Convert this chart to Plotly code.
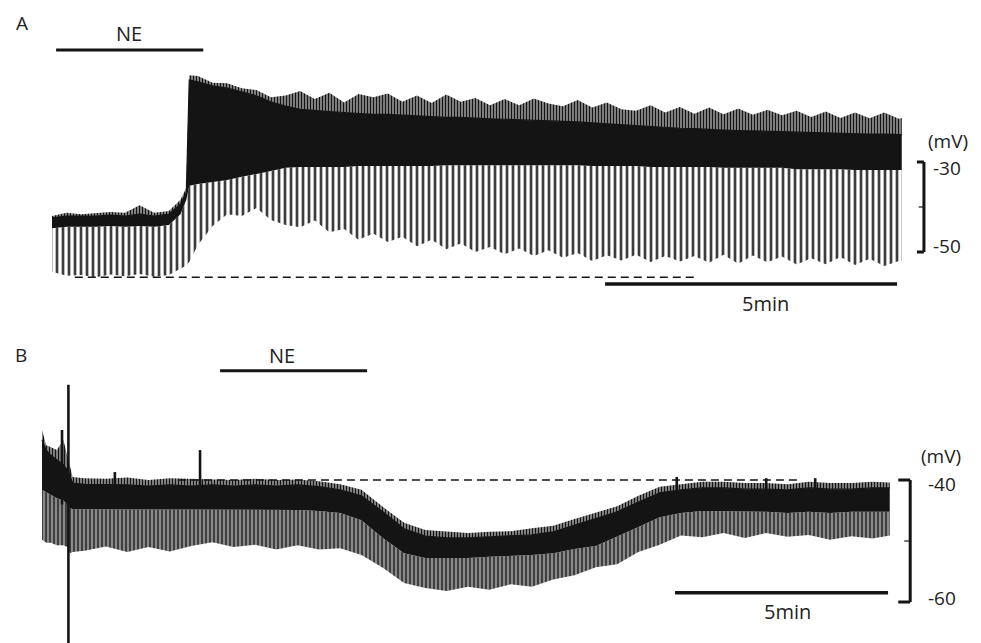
import plotly.graph_objects as go

W, H = 981, 643

# ---------------- Panel A data (time in min, membrane potential in mV) ----------------
a_time = [0, 0.25, 0.5, 0.75, 1.0, 1.25, 1.5, 1.75, 2.0,
          2.2, 2.3, 2.35,
          2.5, 2.75, 3.0, 3.25, 3.5, 3.75, 4.0, 4.25, 4.5, 4.75, 5.0, 5.25, 5.5, 5.75,
          6.0, 6.25, 6.5, 6.75, 7.0, 7.25, 7.5, 7.75, 8.0, 8.25, 8.5, 8.75, 9.0, 9.25,
          9.5, 9.75, 10.0, 10.25, 10.5, 10.75, 11.0, 11.25, 11.5, 11.75, 12.0, 12.25,
          12.5, 12.75, 13.0, 13.25, 13.5, 13.75, 14.0, 14.25, 14.5, 14.55]
a_spike_top = [-42.0, -41.3, -41.6, -41.3, -41.1, -41.3, -39.6, -41.3, -40.9,
               -38.4, -35.8, -10.7,
               -10.9, -12.4, -12.5, -13.6, -14.0, -15.6, -15.2, -14.2, -16.0, -14.6, -16.8, -14.9, -15.6, -14.8,
               -16.6, -15.2, -16.9, -15.0, -16.6, -15.8, -17.4, -16.0, -17.4, -15.9, -17.0, -17.6, -16.2, -17.9,
               -16.8, -18.3, -18.6, -17.4, -19.0, -17.8, -19.3, -17.9, -19.4, -18.1, -19.5, -18.4,
               -19.6, -18.6, -20.0, -18.8, -20.2, -19.0, -20.3, -19.0, -20.4, -20.2]
a_core_top = [-42.4, -42.0, -42.0, -42.0, -41.8, -42.0, -41.6, -42.0, -41.6,
              -39.3, -36.7, -11.8,
              -12.2, -13.1, -13.6, -14.4, -15.3, -16.7, -17.6, -18.3, -18.6, -18.8, -19.0, -19.2, -19.4, -19.4,
              -19.6, -19.8, -19.9, -20.1, -20.1, -20.3, -20.4, -20.5, -20.6, -20.8, -20.9, -21.0, -21.1, -21.3,
              -21.5, -21.7, -22.0, -22.2, -22.3, -22.5, -22.6, -22.8, -22.9, -23.0, -23.1, -23.2,
              -23.3, -23.4, -23.5, -23.6, -23.7, -23.7, -23.8, -23.8, -23.9, -23.9]
a_band_bottom = [-44.7, -44.4, -44.4, -44.4, -44.2, -44.4, -44.2, -44.4, -44.0,
                 -41.6, -38.4, -35.3,
                 -34.9, -34.4, -34.0, -33.3, -32.7, -32.0, -31.3, -31.1, -31.1, -31.1, -31.1, -30.9, -30.9, -30.9,
                 -30.9, -30.9, -30.9, -30.7, -30.7, -30.7, -30.7, -30.7, -30.7, -30.7, -30.7, -30.7, -30.7, -30.9,
                 -30.9, -30.9, -30.9, -31.1, -31.1, -31.1, -31.1, -31.1, -31.3, -31.3, -31.3, -31.3,
                 -31.3, -31.6, -31.6, -31.6, -31.6, -31.8, -31.8, -31.8, -31.8, -31.8]
a_pulse_bottom = [-54.4, -55.3, -55.1, -55.6, -55.0, -55.4, -54.9, -55.5, -55.1,
                  -53.6, -53.0, -52.2,
                  -48.4, -44.2, -41.6, -42.0, -40.2, -42.9, -44.0, -44.5, -43.0, -45.6, -44.9, -47.3, -45.9, -47.8,
                  -46.6, -48.7, -47.3, -49.4, -48.1, -50.0, -48.9, -50.5, -49.2, -50.9, -49.6, -51.3, -50.2, -52.0,
                  -50.7, -51.9, -50.6, -52.2, -50.9, -52.1, -50.9, -52.4, -50.6, -52.6, -50.8, -52.3,
                  -51.0, -52.8, -51.4, -52.7, -51.1, -52.9, -51.5, -53.1, -52.0, -52.0]

# ---------------- Panel B data ----------------
b_time = [0, 0.1, 0.2, 0.35, 0.5, 0.6, 0.66, 0.72,
          1.0, 1.5, 2.0, 2.5, 3.0, 3.5, 4.0, 4.5, 5.0, 5.5, 6.0, 6.5, 7.0, 7.5, 8.0, 8.5, 9.0,
          9.5, 10.0, 10.5, 11.0, 11.5, 12.0, 12.5, 13.0, 13.5, 14.0, 14.5, 15.0, 15.5, 16.0,
          16.5, 17.0, 17.5, 18.0, 18.5, 19.0, 19.5, 19.9]
b_spike_top = [-31.8, -34.3, -34.6, -35.1, -33.4, -36.0, -38.0, -39.5,
               -39.7, -39.8, -39.6, -40.0, -39.7, -39.8, -39.9, -40.0, -39.8, -40.0, -39.9, -40.2, -40.7, -41.6, -44.4, -47.0, -48.2,
               -48.5, -48.7, -48.5, -48.4, -47.9, -47.5, -46.4, -45.4, -44.3, -42.6, -41.1, -40.7, -40.3, -40.3,
               -40.5, -40.5, -40.7, -40.3, -40.5, -40.5, -40.3, -40.4]
b_core_top = [-33.4, -35.1, -35.9, -36.7, -37.5, -38.4, -39.5, -40.5,
              -40.7, -40.7, -40.8, -41.0, -40.8, -41.0, -40.8, -41.0, -40.8, -41.0, -40.8, -41.1, -41.6, -42.6, -45.2, -48.0, -49.2,
              -49.5, -49.5, -49.3, -49.2, -49.0, -48.5, -47.4, -46.4, -45.2, -43.6, -42.1, -41.6, -41.3, -41.3,
              -41.5, -41.5, -41.6, -41.3, -41.5, -41.5, -41.3, -41.3]
b_band_bottom = [-41.6, -42.0, -42.5, -43.0, -43.3, -44.1, -44.6, -44.8,
                 -44.8, -44.8, -44.9, -44.9, -44.8, -44.8, -44.8, -44.9, -44.8, -44.9, -44.9, -45.1, -45.4, -46.6, -49.5, -52.0, -52.8,
                 -52.8, -52.8, -52.6, -52.5, -52.3, -52.0, -51.3, -50.8, -49.3, -47.7, -46.1, -45.4, -45.1, -45.1,
                 -45.2, -45.2, -45.4, -45.2, -45.4, -45.2, -45.2, -45.2]
b_pulse_bottom = [-49.8, -50.3, -50.3, -50.7, -50.7, -51.0, -52.0, -51.8,
                  -51.6, -50.9, -51.8, -51.0, -51.7, -50.8, -50.2, -51.0, -50.6, -51.4, -50.7, -51.4, -51.2, -52.3, -54.4, -56.9, -57.7,
                  -58.2, -57.5, -58.0, -57.1, -57.5, -56.3, -55.6, -54.3, -53.8, -51.8, -50.6, -49.1, -49.4, -48.7,
                  -49.5, -48.7, -49.3, -49.0, -49.8, -49.2, -49.6, -49.1]
b_transient_time = [0.47, 0.62, 1.71, 3.71, 14.9, 17.0, 18.15]
b_transient_max = [-31.8, -24.4, -38.7, -35.1, -39.5, -39.7, -39.7]
b_transient_min = [-44.0, -66.7, -42.0, -42.0, -42.0, -42.0, -42.0]

# annotations / scale values
a_ne_window = [0.07, 2.59]
b_ne_window = [4.18, 7.63]
a_ref_level, a_ref_span = -55.6, [0.39, 11.0]
b_ref_level, b_ref_span = -40.0, [3.19, 17.72]
a_time_bar = [9.47, 14.47]
b_time_bar = [14.86, 19.86]
a_mv_scale = [-30, -40, -50]
b_mv_scale = [-40, -50, -60]

INK = "#141414"
FONT = "Open Sans"

fig = go.Figure()


def add_trace_set(t, pulse, band, core, spike, xa, ya, pulse_pattern, pulse_fill):
    fig.add_trace(go.Scatter(x=t, y=pulse, mode="lines", line=dict(width=0),
                             xaxis=xa, yaxis=ya, hoverinfo="skip", showlegend=False))
    fig.add_trace(go.Scatter(x=t, y=band, mode="lines", line=dict(width=0),
                             fill="tonexty", fillcolor=pulse_fill, fillpattern=pulse_pattern,
                             xaxis=xa, yaxis=ya, hoverinfo="skip", showlegend=False))
    fig.add_trace(go.Scatter(x=t, y=core, mode="lines", line=dict(width=1.2, color=INK),
                             fill="tonexty", fillcolor=INK,
                             xaxis=xa, yaxis=ya, hoverinfo="skip", showlegend=False))
    fig.add_trace(go.Scatter(x=t, y=spike, mode="lines", line=dict(width=0),
                             fill="tonexty", fillcolor="rgba(0,0,0,0)",
                             fillpattern=dict(shape="|", fgcolor=INK, bgcolor="rgba(0,0,0,0)",
                                              size=3, solidity=0.7, fillmode="replace"),
                             xaxis=xa, yaxis=ya, hoverinfo="skip", showlegend=False))


add_trace_set(a_time, a_pulse_bottom, a_band_bottom, a_core_top, a_spike_top, "x", "y",
              dict(shape="|", fgcolor="#3c3c3c", bgcolor="rgba(255,255,255,0)", size=6,
                   solidity=0.45, fillmode="replace"), "rgba(0,0,0,0)")
add_trace_set(b_time, b_pulse_bottom, b_band_bottom, b_core_top, b_spike_top, "x2", "y2",
              dict(shape="|", fgcolor="#1e1e1e", bgcolor="#8a8a8a", size=4,
                   solidity=0.35, fillmode="replace"), "#8a8a8a")

tx, ty = [], []
for t, hi, lo in zip(b_transient_time, b_transient_max, b_transient_min):
    tx += [t, t, None]
    ty += [lo, hi, None]
fig.add_trace(go.Scatter(x=tx, y=ty, mode="lines", line=dict(width=2.6, color=INK),
                         xaxis="x2", yaxis="y2", hoverinfo="skip", showlegend=False))


def hline(x0, x1, y, xr, yr, width=3, dash=None):
    fig.add_shape(type="line", x0=x0, x1=x1, y0=y, y1=y, xref=xr, yref=yr,
                  line=dict(color=INK, width=width, dash=dash))


def vline(x, y0, y1, xr, yr, width=3):
    fig.add_shape(type="line", x0=x, x1=x, y0=y0, y1=y1, xref=xr, yref=yr,
                  line=dict(color=INK, width=width))


# NE bars
hline(a_ne_window[0], a_ne_window[1], -5.1, "x", "y", width=3)
hline(b_ne_window[0], b_ne_window[1], -22.1, "x2", "y2", width=3)
# reference dashed lines
hline(a_ref_span[0], a_ref_span[1], a_ref_level, "x", "y", width=1.5, dash="8px,5px")
hline(b_ref_span[0], b_ref_span[1], b_ref_level, "x2", "y2", width=1.5, dash="8px,5px")
# time scale bars
hline(a_time_bar[0], a_time_bar[1], -57.1, "x", "y", width=3.5)
hline(b_time_bar[0], b_time_bar[1], -58.5, "x2", "y2", width=3.5)

# mV brackets
a_bx, a_bx0, a_bxm = 14.93, 14.81, 14.84
vline(a_bx, a_mv_scale[0], a_mv_scale[2], "x", "y", width=3)
hline(a_bx0, a_bx, a_mv_scale[0], "x", "y", width=3)
hline(a_bx0, a_bx, a_mv_scale[2], "x", "y", width=3)
hline(a_bxm, a_bx, a_mv_scale[1], "x", "y", width=1.2)
b_bx, b_bx0, b_bxm = 20.38, 20.10, 20.24
vline(b_bx, b_mv_scale[0], b_mv_scale[2], "x2", "y2", width=3)
hline(b_bx0, b_bx, b_mv_scale[0], "x2", "y2", width=3)
hline(b_bx0, b_bx, b_mv_scale[2], "x2", "y2", width=3)
hline(b_bxm, b_bx, b_mv_scale[1], "x2", "y2", width=1.2)


def label(text, px, py, size=19):
    fig.add_annotation(text=text, x=px / W, y=1 - py / H, xref="paper", yref="paper",
                       showarrow=False, xanchor="center", yanchor="middle",
                       font=dict(family=FONT, size=size, color="#222222"))


label("A", 22, 23)
label("NE", 129, 34, 20)
label("5min", 765, 304, 20)
label("(mV)", 948, 141)
label(str(a_mv_scale[0]), 947, 168)
label(str(a_mv_scale[2]), 947, 246)
label("B", 21, 355)
label("NE", 282, 355, 20)
label("5min", 787, 611, 20)
label("(mV)", 941, 456)
label(str(b_mv_scale[0]), 942, 484)
label(str(b_mv_scale[2]), 942, 598)

split = 1 - 320 / H
ax = dict(visible=False, showgrid=False, zeroline=False, fixedrange=True)
fig.update_layout(
    width=W, height=H, margin=dict(l=0, r=0, t=0, b=0),
    paper_bgcolor="white", plot_bgcolor="white", showlegend=False,
    xaxis=dict(domain=[0, 1], range=[-0.8904, 15.907], anchor="y", **ax),
    yaxis=dict(domain=[split, 1], range=[-65.11, 6.0], anchor="x", **ax),
    xaxis2=dict(domain=[0, 1], range=[-0.9859, 22.042], anchor="y2", **ax),
    yaxis2=dict(domain=[0, split], range=[-66.72, -13.77], anchor="x2", **ax),
)

fig.write_html("out.html")
